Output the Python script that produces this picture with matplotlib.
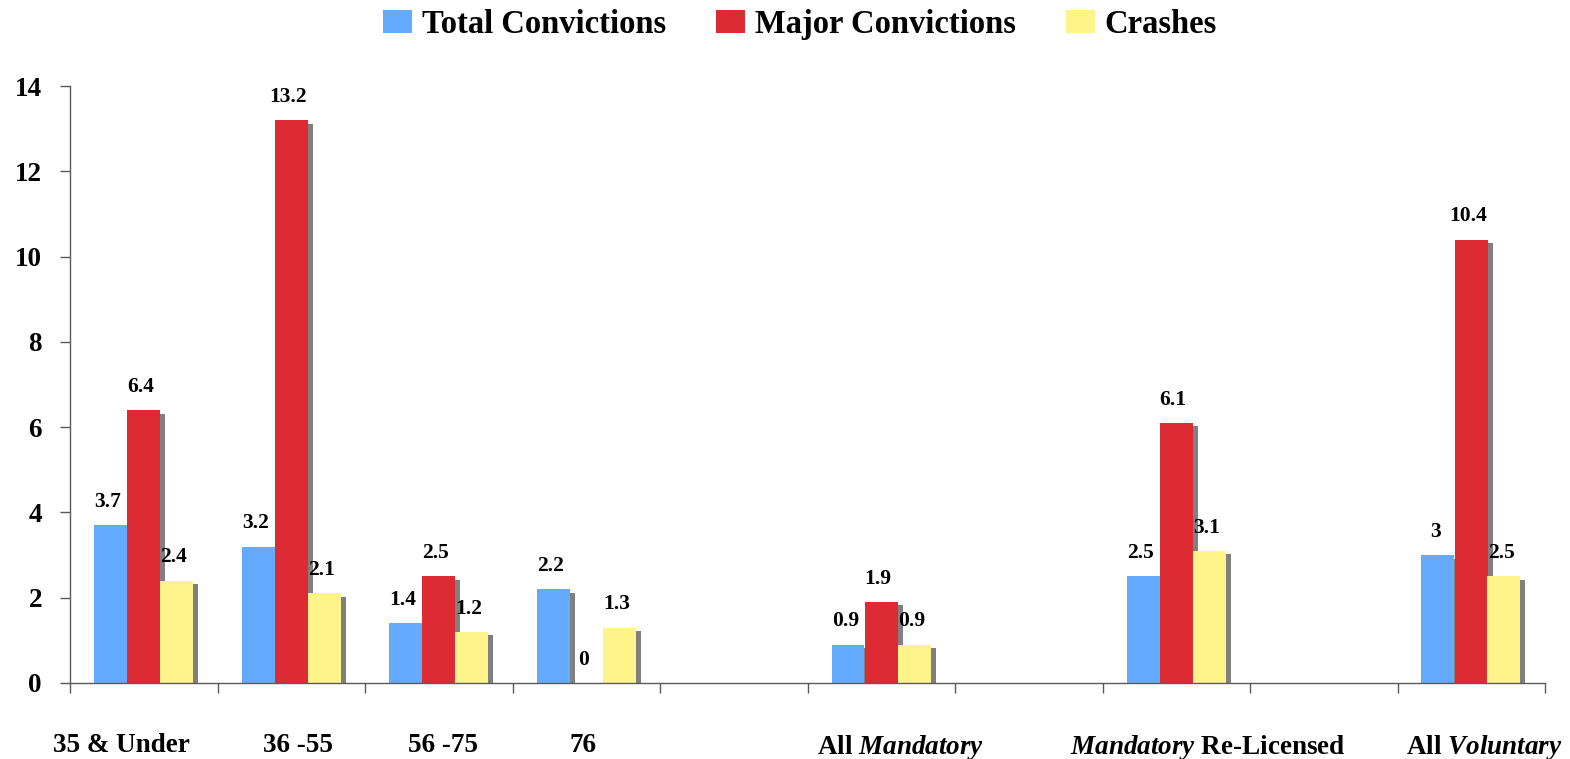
import matplotlib
matplotlib.use('Agg')
import matplotlib.pyplot as plt
from matplotlib.patches import Patch
import matplotlib.transforms as mtransforms

plt.rcParams['font.family'] = ['Liberation Serif', 'DejaVu Serif']
plt.rcParams['font.weight'] = 'bold'
plt.rcParams['mathtext.fontset'] = 'custom'
plt.rcParams['mathtext.rm'] = 'Liberation Serif:bold'
plt.rcParams['mathtext.it'] = 'Liberation Serif:italic:bold'
plt.rcParams['mathtext.bf'] = 'Liberation Serif:bold'

# ---- data ----
categories = ['35 & Under', '36 -55', '56 -75', '76',
              r'All $\mathit{Mandatory}$',
              r'$\mathit{Mandatory}$ Re-Licensed',
              r'All $\mathit{Voluntary}$']
total_convictions = [3.7, 3.2, 1.4, 2.2, 0.9, 2.5, 3]
major_convictions = [6.4, 13.2, 2.5, 0, 1.9, 6.1, 10.4]
crashes = [2.4, 2.1, 1.2, 1.3, 0.9, 3.1, 2.5]
series_names = ['Total Convictions', 'Major Convictions', 'Crashes']
yticks = [0, 2, 4, 6, 8, 10, 12, 14]

# ---- layout / style ----
slots = [0, 1, 2, 3, 5, 7, 9]         # category slot positions (10 slots)
n_slots = 10
colors = ['#64AAFF', '#DC2B32', '#FFF48A']
shadow_color = '#808080'
bar_w = 33 / 147.5
group_off = 24 / 147.5
shadow_dx = 5 / 147.5
shadow_dy = 3.5 / 42.64
label_dx_px = [-22, 7, 4, -3, 19, 32, 13]
spine_col = '#5a5a5a'

fig = plt.figure(figsize=(15.7, 7.59), dpi=100)
ax = fig.add_axes([70 / 1570, 1 - 683 / 759, 1475 / 1570, 597 / 759])

series_vals = [total_convictions, major_convictions, crashes]
for i, (vals, col) in enumerate(zip(series_vals, colors)):
    xs = [s + group_off + i * bar_w for s in slots]
    ax.bar([x + shadow_dx for x in xs], [max(v - shadow_dy, 0) for v in vals],
           width=bar_w, align='edge', color=shadow_color, zorder=1, linewidth=0)
    ax.bar(xs, vals, width=bar_w, align='edge', color=col, zorder=2, linewidth=0)
    for x, v in zip(xs, vals):
        ax.annotate(f'{v:g}', (x + bar_w / 2, v), xytext=(-2, 9.5),
                    textcoords='offset points', ha='center', va='bottom',
                    fontsize=15.5, fontweight='bold', zorder=5)

ax.set_xlim(0, n_slots)
ax.set_ylim(0, 14)
ax.set_yticks(yticks)
ax.set_xticks(range(n_slots + 1))
ax.set_xticklabels([])
ax.set_xticks([s + 0.5 for s in slots], minor=True)
ax.set_xticklabels(categories, minor=True)
ax.tick_params(axis='x', which='major', length=7.2, width=1, color=spine_col, direction='out')
ax.tick_params(axis='x', which='minor', length=0, pad=36, labelsize=19.5)
ax.tick_params(axis='y', length=7.2, width=1, color=spine_col, pad=13, labelsize=19.5)
for lab in ax.get_yticklabels():
    lab.set_fontweight('bold')
for lab, dx in zip(ax.get_xticklabels(minor=True), label_dx_px):
    lab.set_fontweight('bold')
    lab.set_transform(lab.get_transform() +
                      mtransforms.ScaledTranslation(dx / 100, 0, fig.dpi_scale_trans))

for sp in ['top', 'right']:
    ax.spines[sp].set_visible(False)
for sp in ['left', 'bottom']:
    ax.spines[sp].set_color(spine_col)
    ax.spines[sp].set_linewidth(1)

handles = [Patch(facecolor=c, edgecolor='none') for c in colors]
fig.legend(handles, series_names, loc='center', bbox_to_anchor=(0.5096, 0.968),
           ncol=3, frameon=False, fontsize=23.5, handlelength=0.88,
           handleheight=0.74, handletextpad=0.3, columnspacing=1.55,
           borderpad=0, borderaxespad=0)

fig.savefig('out.png', dpi=100)
